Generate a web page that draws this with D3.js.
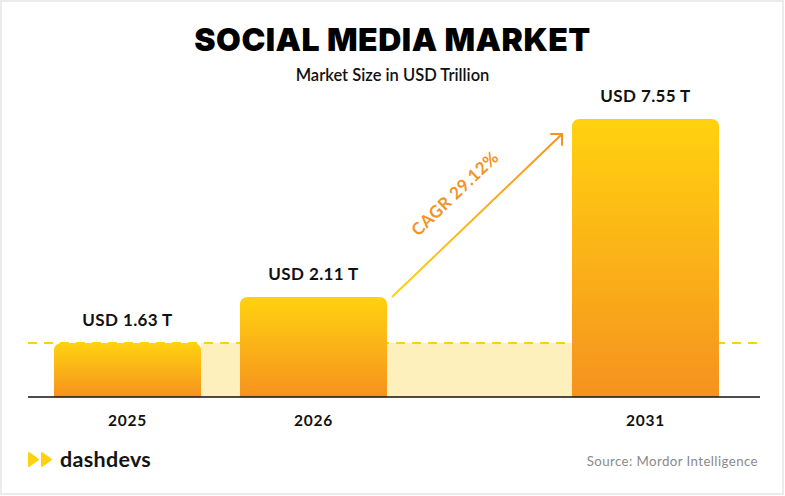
<!DOCTYPE html>
<html>
<head>
<meta charset="utf-8">
<script src="https://cdn.jsdelivr.net/npm/d3@7/dist/d3.min.js"></script>
<style>
  html, body { margin: 0; padding: 0; background: #fff; }
  svg { display: block; }
</style>
</head>
<body>
<svg id="chart"></svg>
<script>
const years = [2025, 2026, 2031];
const values = [1.63, 2.11, 7.55];
const valueLabels = ["USD 1.63 T", "USD 2.11 T", "USD 7.55 T"];
const cagrLabel = "CAGR 29.12%";
const title = "SOCIAL MEDIA MARKET";
const subtitle = "Market Size in USD Trillion";
const source = "Source: Mordor Intelligence";
const brand = "dashdevs";

const W = 785;
const H = 496;
const baseline = 397;
const barWidth = 147;
const font = "Lato, 'Open Sans', sans-serif";

const svg = d3.select("#chart").attr("width", W).attr("height", H);

// the source draws the timeline compressed after 2026 and the bars not to scale,
// so both scales are piecewise between the drawn categories
const x = d3.scaleLinear().domain(years).range([127.5, 313.5, 645.5]);
const y = d3.scaleLinear().domain([0, ...values]).range([baseline, 343, 297, 119]);

const defs = svg.append("defs");
const barGrad = defs.append("linearGradient")
  .attr("id", "barGrad").attr("x1", 0).attr("y1", 0).attr("x2", 0).attr("y2", 1);
barGrad.append("stop").attr("offset", "0%").attr("stop-color", "#ffd20f");
barGrad.append("stop").attr("offset", "100%").attr("stop-color", "#f6921f");

// frame
svg.append("rect")
  .attr("x", 1).attr("y", 1).attr("width", W - 3).attr("height", H - 3)
  .attr("fill", "#fff").attr("stroke", "#ebebeb").attr("stroke-width", 2);

svg.append("text")
  .attr("x", W / 2).attr("y", 51)
  .attr("text-anchor", "middle")
  .attr("font-family", "Inter, Lato, sans-serif").attr("font-weight", 900).attr("font-size", 32)
  .attr("letter-spacing", 0.5)
  .attr("fill", "#000")
  .text(title);

svg.append("text")
  .attr("x", W / 2).attr("y", 81)
  .attr("text-anchor", "middle")
  .attr("font-family", font).attr("font-weight", 600).attr("font-size", 16.5)
  .attr("fill", "#111")
  .text(subtitle);

// pale band at the 2025 level
const firstTop = y(values[0]);
svg.append("rect")
  .attr("x", x(years[0]) + barWidth / 2)
  .attr("y", firstTop)
  .attr("width", x(years[2]) - x(years[0]) - barWidth)
  .attr("height", baseline - firstTop)
  .attr("fill", "#fef0bc");

svg.append("line")
  .attr("x1", 28).attr("x2", 760)
  .attr("y1", firstTop).attr("y2", firstTop)
  .attr("stroke", "#ffd20f").attr("stroke-width", 2)
  .attr("stroke-dasharray", "9 7");

function barPath(d, i) {
  const x0 = x(years[i]) - barWidth / 2;
  const x1 = x0 + barWidth;
  const top = y(d);
  const r = 8;
  return `M${x0},${baseline}V${top + r}Q${x0},${top} ${x0 + r},${top}` +
    `H${x1 - r}Q${x1},${top} ${x1},${top + r}V${baseline}Z`;
}

svg.append("g")
  .selectAll("path")
  .data(values)
  .join("path")
  .attr("d", barPath)
  .attr("fill", "url(#barGrad)");

svg.append("line")
  .attr("x1", 28).attr("x2", 760)
  .attr("y1", baseline).attr("y2", baseline)
  .attr("stroke", "#111").attr("stroke-width", 1.5);

svg.append("g")
  .selectAll("text")
  .data(valueLabels)
  .join("text")
  .attr("x", (d, i) => x(years[i]))
  .attr("y", (d, i) => y(values[i]) - 17)
  .attr("text-anchor", "middle")
  .attr("font-family", font).attr("font-weight", 700).attr("font-size", 17)
  .attr("letter-spacing", 0.4)
  .attr("fill", "#111")
  .text((d) => d);

svg.append("g")
  .selectAll("text")
  .data(years)
  .join("text")
  .attr("x", (d) => x(d))
  .attr("y", 426)
  .attr("text-anchor", "middle")
  .attr("font-family", font).attr("font-weight", 700).attr("font-size", 15.5)
  .attr("letter-spacing", 0.8)
  .attr("fill", "#111")
  .text((d) => d);

// CAGR arrow from 2026 bar to 2031 bar
const ax0 = x(years[1]) + barWidth / 2 + 5;
const ay0 = y(values[1]);
const ax1 = x(years[2]) - barWidth / 2 - 10;
const ay1 = y(values[2]) + 15;

const arrowGrad = defs.append("linearGradient")
  .attr("id", "arrowGrad").attr("gradientUnits", "userSpaceOnUse")
  .attr("x1", ax0).attr("y1", ay0).attr("x2", ax1).attr("y2", ay1);
arrowGrad.append("stop").attr("offset", "0%").attr("stop-color", "#ffd20f");
arrowGrad.append("stop").attr("offset", "100%").attr("stop-color", "#f6921f");

svg.append("line")
  .attr("x1", ax0).attr("y1", ay0).attr("x2", ax1).attr("y2", ay1)
  .attr("stroke", "url(#arrowGrad)").attr("stroke-width", 2);

svg.append("path")
  .attr("d", `M${ax1 - 11},${ay1}H${ax1}V${ay1 + 11}`)
  .attr("fill", "none")
  .attr("stroke", "#f6921f").attr("stroke-width", 2)
  .attr("stroke-linecap", "round").attr("stroke-linejoin", "round");

const angle = Math.atan2(ay1 - ay0, ax1 - ax0) * 180 / Math.PI;
const cx = (ax0 + ax1) / 2 - 22;
const cy = (ay0 + ay1) / 2 - 22;
svg.append("text")
  .attr("transform", `translate(${cx},${cy}) rotate(${angle})`)
  .attr("text-anchor", "middle")
  .attr("dy", "0.35em")
  .attr("font-family", font).attr("font-weight", 700).attr("font-size", 17)
  .attr("letter-spacing", 0.5)
  .attr("fill", "#f39325")
  .text(cagrLabel);

// brand mark
const logo = svg.append("g").attr("transform", "translate(28,452)");
[0, 13].forEach((dx) => {
  logo.append("path")
    .attr("d", `M${dx + 1},1L${dx + 10},7.5L${dx + 1},14Z`)
    .attr("fill", "#ffd20f")
    .attr("stroke", "#ffd20f").attr("stroke-width", 2).attr("stroke-linejoin", "round");
});
svg.append("text")
  .attr("x", 60).attr("y", 467)
  .attr("font-family", font).attr("font-weight", 700).attr("font-size", 21.5)
  .attr("letter-spacing", 0.3)
  .attr("fill", "#141414")
  .text(brand);

svg.append("text")
  .attr("x", 758).attr("y", 466)
  .attr("text-anchor", "end")
  .attr("font-family", font).attr("font-size", 13.3)
  .attr("letter-spacing", 0.4)
  .attr("fill", "#8a8a8a")
  .text(source);
</script>
</body>
</html>
